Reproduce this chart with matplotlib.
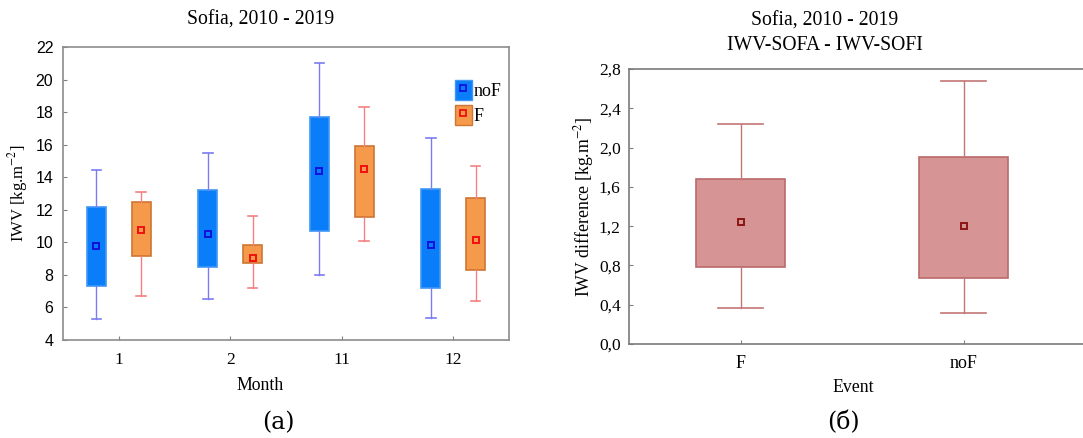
import matplotlib
matplotlib.use('Agg')
import matplotlib.pyplot as plt
from matplotlib.patches import Patch
from matplotlib.lines import Line2D

plt.rcParams['font.family'] = 'Liberation Serif'
plt.rcParams['mathtext.fontset'] = 'stix'

# data
months = ['1', '2', '11', '12']
# noF: whisker low, q1, mean, q3, whisker high
nof_lo = [5.27, 6.5, 7.97, 5.37]
nof_q1 = [7.32, 8.48, 10.67, 7.17]
nof_mean = [9.8, 10.53, 14.37, 9.83]
nof_q3 = [12.2, 13.19, 17.71, 13.25]
nof_hi = [14.47, 15.46, 21.0, 16.42]
# F
f_lo = [6.7, 7.17, 10.06, 6.38]
f_q1 = [9.18, 8.73, 11.57, 8.28]
f_mean = [10.77, 9.01, 14.49, 10.12]
f_q3 = [12.45, 9.81, 15.93, 12.74]
f_hi = [13.12, 11.59, 18.32, 14.7]

events = ['F', 'noF']
d_lo = [0.367, 0.313]
d_q1 = [0.78, 0.673]
d_mean = [1.244, 1.206]
d_q3 = [1.68, 1.903]
d_hi = [2.24, 2.674]


def make_stats(lo, q1, mean, q3, hi):
    st = []
    for i in range(len(lo)):
        st.append(dict(whislo=lo[i], q1=q1[i], med=mean[i], mean=mean[i],
                       q3=q3[i], whishi=hi[i], fliers=[]))
    return st


def draw(ax, stats, pos, width, fill, edge, wcol, mcol, ms):
    ax.bxp(stats, positions=pos, widths=width, patch_artist=True, showmeans=True,
           showfliers=False,
           boxprops=dict(facecolor=fill, edgecolor=edge, linewidth=1.2),
           whiskerprops=dict(color=wcol, linewidth=1),
           capprops=dict(color=wcol, linewidth=1.2),
           medianprops=dict(linewidth=0),
           meanprops=dict(marker='s', markerfacecolor='none', markeredgecolor=mcol,
                          markersize=ms, markeredgewidth=1.4))


fig = plt.figure(figsize=(10.83, 4.38), dpi=100)

# ---- (a)
ax1 = fig.add_axes([63 / 1083, 98 / 438, 446 / 1083, 293 / 438])
xc = [0.5, 1.5, 2.5, 3.5]
draw(ax1, make_stats(nof_lo, nof_q1, nof_mean, nof_q3, nof_hi), [x - 0.2 for x in xc], 0.17,
     '#0a7df8', '#3f97f5', '#7b7bf2', '#1010e0', 5)
draw(ax1, make_stats(f_lo, f_q1, f_mean, f_q3, f_hi), [x + 0.2 for x in xc], 0.17,
     '#f5994a', '#cf7635', '#f58080', '#f01010', 5)
ax1.set_xlim(0, 4)
ax1.set_ylim(4, 22)
ax1.set_yticks(range(4, 23, 2))
ax1.set_xticks(xc)
ax1.set_xticklabels(months)
for lab in ax1.get_yticklabels():
    lab.set_fontfamily('Liberation Sans')
ax1.tick_params(axis='y', direction='in', length=3, pad=7, labelsize=11.5, color='#808080')
ax1.tick_params(axis='x', direction='in', length=3, pad=9, labelsize=12.5, color='#808080')
for s in ax1.spines.values():
    s.set_color('#8c8c8c')
    s.set_linewidth(1.2)
ax1.set_ylabel('IWV [kg.m$^{-2}$]', fontsize=12, labelpad=4)

h1 = (Patch(facecolor='#0a7df8', edgecolor='#3f97f5'),
      Line2D([], [], marker='s', linestyle='none', markerfacecolor='none',
             markeredgecolor='#1010e0', markersize=4, markeredgewidth=1.3))
h2 = (Patch(facecolor='#f5994a', edgecolor='#cf7635'),
      Line2D([], [], marker='s', linestyle='none', markerfacecolor='none',
             markeredgecolor='#f01010', markersize=4, markeredgewidth=1.3))
ax1.legend([h1, h2], ['noF', 'F'], loc='upper right', bbox_to_anchor=(1.012, 0.93),
           frameon=False, handlelength=0.95, handleheight=1.35, handletextpad=0.1,
           labelspacing=0.25, borderpad=0.2, fontsize=13)

fig.text(261 / 1083, 1 - 20 / 438, 'Sofia, 2010 - 2019', ha='center', va='center', fontsize=14.2)
fig.text(260 / 1083, 1 - 385 / 438, 'Month', ha='center', va='center', fontsize=12.8)
fig.text(278 / 1083, 1 - 423 / 438, '(a)', ha='center', va='center', fontsize=17,
         family='DejaVu Serif')

# ---- (б)
ax2 = fig.add_axes([629 / 1083, 94 / 438, 454 / 1083, 275 / 438])
draw(ax2, make_stats(d_lo, d_q1, d_mean, d_q3, d_hi), [0.5, 1.5], 0.4,
     '#d79494', '#bb6a6a', '#c27676', '#8b1515', 5)
ax2.set_xlim(0, 454 / 223)
ax2.set_ylim(0, 2.8)
yt = [0.0, 0.4, 0.8, 1.2, 1.6, 2.0, 2.4, 2.8]
ax2.set_yticks(yt)
ax2.set_yticklabels([('%.1f' % v).replace('.', ',') for v in yt])
ax2.set_xticks([0.5, 1.5])
ax2.set_xticklabels(events)
ax2.tick_params(axis='y', direction='in', length=3, pad=6, labelsize=12.5, color='#808080')
ax2.tick_params(axis='x', direction='in', length=3, pad=8, labelsize=13, color='#808080')
ax2.spines['right'].set_visible(False)
for s in ax2.spines.values():
    s.set_color('#7a7a7a')
    s.set_linewidth(1.2)
ax2.set_ylabel('IWV difference [kg.m$^{-2}$]', fontsize=12.8, labelpad=2)

fig.text(825 / 1083, 1 - 21 / 438, 'Sofia, 2010 - 2019', ha='center', va='center', fontsize=14.2)
fig.text(825 / 1083, 1 - 46 / 438, 'IWV-SOFA - IWV-SOFI', ha='center', va='center', fontsize=14.2)
fig.text(853 / 1083, 1 - 387 / 438, 'Event', ha='center', va='center', fontsize=12.8)
fig.text(843 / 1083, 1 - 423 / 438, '(б)', ha='center', va='center', fontsize=17,
         family='DejaVu Serif')

fig.savefig('out.png', dpi=100)
